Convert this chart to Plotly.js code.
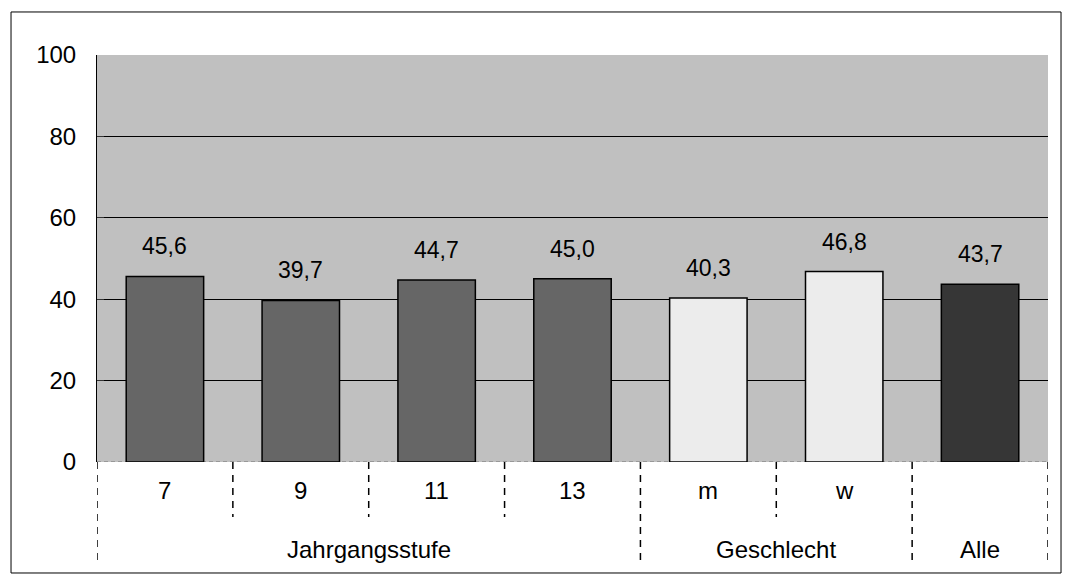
<!DOCTYPE html>
<html>
<head>
<meta charset="utf-8">
<script src="https://cdn.plot.ly/plotly-3.0.1.min.js"></script>
<style>html,body{margin:0;padding:0;background:#fff;}#chart{width:1069px;height:584px;}</style>
</head>
<body>
<div id="chart"></div>
<script>
const categories = ['7', '9', '11', '13', 'm', 'w', 'Alle'];
const tickLabels = ['7', '9', '11', '13', 'm', 'w', ''];
const values = [45.6, 39.7, 44.7, 45.0, 40.3, 46.8, 43.7];
const groupNames = ['Jahrgangsstufe', 'Geschlecht', 'Alle'];
const groupSizes = [4, 2, 1];
const barColors = ['#666666', '#666666', '#666666', '#666666', '#ececec', '#ececec', '#363636'];

const FONT = 'Liberation Sans, Arial, sans-serif';
const idx = categories.map((c, i) => i);

const trace = {
  type: 'bar',
  x: idx,
  y: values,
  marker: { color: barColors, line: { color: '#000', width: 1.5 } },
  width: 0.57,
  hoverinfo: 'none'
};

const shapes = [];
const annotations = [];

// outer border
shapes.push({ type: 'rect', xref: 'paper', yref: 'paper', x0: -0.0904, x1: 1.0137, y0: -0.2727, y1: 1.1057,
  line: { color: '#000', width: 1 }, fillcolor: 'rgba(0,0,0,0)', layer: 'above' });
// dashed zero line
shapes.push({ type: 'line', xref: 'paper', yref: 'y', x0: 0, x1: 1, y0: 0, y1: 0,
  line: { color: '#8a8a8a', width: 1.5, dash: '4px,3px' }, layer: 'below' });

// separators
const groupStarts = [];
let s = 0;
groupSizes.forEach(n => { groupStarts.push(s); s += n; });
const groupBounds = new Set(groupStarts.concat([categories.length]));
for (let b = 0; b <= categories.length; b++) {
  const isGroup = groupBounds.has(b);
  shapes.push({ type: 'line', xref: 'x', yref: 'paper', x0: b - 0.5, x1: b - 0.5, y0: 0, y1: isGroup ? -0.246 : -0.135,
    line: { color: '#000', width: 1.5, dash: '7px,6px' }, layer: 'above' });
}

// tick labels
tickLabels.forEach((t, i) => {
  if (!t) return;
  annotations.push({ x: i, y: -0.07, xref: 'x', yref: 'paper', text: t, showarrow: false,
    font: { family: FONT, size: 24, color: '#000' }, xanchor: 'center', yanchor: 'middle' });
});
// group labels
groupNames.forEach((g, k) => {
  const center = groupStarts[k] + (groupSizes[k] - 1) / 2;
  annotations.push({ x: center, y: -0.214, xref: 'x', yref: 'paper', text: g, showarrow: false,
    font: { family: FONT, size: 24, color: '#000' }, xanchor: 'center', yanchor: 'middle' });
});
// value labels
values.forEach((v, i) => {
  annotations.push({ x: i, y: v, xref: 'x', yref: 'y', text: v.toFixed(1).replace('.', ','), showarrow: false,
    font: { family: FONT, size: 23, color: '#000' }, xanchor: 'center', yanchor: 'bottom', yshift: 15 });
});

const layout = {
  width: 1069, height: 584,
  margin: { l: 97, r: 21, t: 55, b: 122 },
  paper_bgcolor: '#fff',
  plot_bgcolor: '#c0c0c0',
  showlegend: false,
  font: { family: FONT, color: '#000' },
  xaxis: { range: [-0.5, 6.5], showticklabels: false, ticks: '', showgrid: false, zeroline: false, showline: false, fixedrange: true },
  yaxis: { range: [0, 100], tickvals: [0, 20, 40, 60, 80, 100], ticks: 'inside', ticklen: 7, tickcolor: '#333',
    showgrid: true, gridcolor: '#000', gridwidth: 1, zeroline: false, showline: true, linecolor: '#000', linewidth: 1,
    tickfont: { family: FONT, size: 24, color: '#000' }, ticklabelstandoff: 15, fixedrange: true },
  shapes: shapes,
  annotations: annotations
};

Plotly.newPlot('chart', [trace], layout, { displayModeBar: false, staticPlot: true });
</script>
</body>
</html>
